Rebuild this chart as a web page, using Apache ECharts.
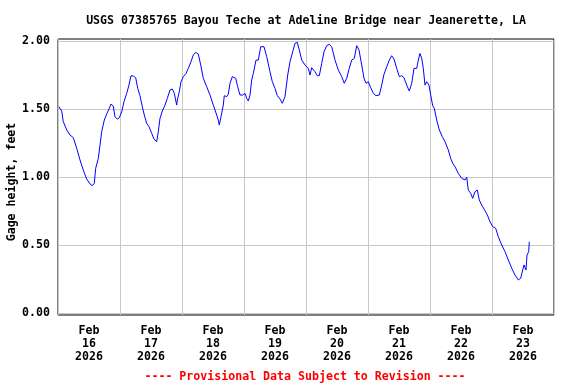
<!DOCTYPE html>
<html>
<head>
<meta charset="utf-8">
<script src="https://cdn.jsdelivr.net/npm/echarts@6/dist/echarts.min.js"></script>
<style>html,body{margin:0;padding:0;background:#fff}#c{width:576px;height:384px}</style>
</head>
<body>
<div id="c"></div>
<script>
// hours since Feb 16 2026 00:00
const hours = [0.39,1.43,2.05,3.37,4.65,5.92,7.24,8.52,9.79,11.11,12.39,13.28,14.05,14.59,15.60,16.26,16.92,17.92,18.85,19.74,20.52,21.41,22.06,22.95,23.73,24.66,25.55,26.59,27.48,28.26,29.15,30.08,30.85,31.74,32.63,33.41,34.34,35.23,36.27,37.16,38.21,38.83,39.48,40.37,41.42,42.31,43.35,44.25,45.02,45.95,46.18,46.95,47.61,48.50,49.55,50.44,51.48,52.37,53.30,54.31,55.24,56.25,57.56,58.84,60.12,61.43,62.05,62.44,63.10,63.99,64.37,65.30,65.92,66.58,67.47,68.13,68.79,69.56,70.45,71.50,72.39,73.05,73.67,74.32,74.98,75.60,76.65,77.54,78.47,79.74,80.79,82.06,82.95,84.00,84.89,85.94,86.83,87.87,88.92,89.81,90.85,91.74,92.63,93.41,94.34,95.61,96.89,97.55,98.21,99.48,100.37,101.15,102.08,102.97,104.01,105.02,105.95,107.23,108.50,109.82,110.83,111.76,112.76,113.69,114.70,115.63,116.52,117.56,118.45,119.23,120.12,121.05,122.06,123.10,124.38,125.31,126.19,127.24,128.25,129.17,130.06,131.11,132.12,133.04,133.94,134.98,135.99,136.92,137.81,138.85,139.47,140.13,140.79,141.41,142.07,142.72,143.61,144.27,145.05,145.67,146.59,147.60,148.76,149.81,151.08,152.01,152.79,153.68,154.96,156.27,157.55,158.21,158.83,159.76,160.53,161.42,162.31,163.08,164.01,165.29,166.18,167.23,168.27,169.43,170.44,171.76,173.03,174.31,175.63,176.90,178.18,179.11,179.88,180.39,181.16,181.55,182.21,182.44];
const gage = [1.517,1.485,1.407,1.346,1.309,1.289,1.211,1.125,1.051,0.985,0.949,0.936,0.954,1.064,1.137,1.235,1.333,1.419,1.463,1.500,1.537,1.522,1.443,1.426,1.436,1.480,1.554,1.615,1.676,1.745,1.743,1.730,1.652,1.598,1.517,1.456,1.395,1.370,1.321,1.279,1.260,1.333,1.431,1.485,1.529,1.578,1.640,1.647,1.615,1.529,1.566,1.627,1.701,1.738,1.762,1.799,1.848,1.897,1.917,1.904,1.824,1.726,1.664,1.603,1.529,1.456,1.419,1.382,1.443,1.529,1.598,1.591,1.608,1.689,1.738,1.750,1.726,1.664,1.603,1.603,1.615,1.578,1.559,1.603,1.713,1.762,1.860,1.860,1.958,1.958,1.885,1.775,1.701,1.652,1.598,1.574,1.542,1.591,1.750,1.848,1.921,1.983,1.990,1.934,1.860,1.824,1.799,1.750,1.804,1.775,1.745,1.745,1.836,1.921,1.966,1.976,1.958,1.860,1.787,1.738,1.689,1.726,1.799,1.860,1.873,1.966,1.934,1.824,1.726,1.689,1.701,1.657,1.615,1.598,1.603,1.676,1.755,1.811,1.860,1.892,1.868,1.799,1.738,1.745,1.730,1.676,1.632,1.689,1.799,1.799,1.860,1.909,1.873,1.799,1.676,1.701,1.676,1.603,1.524,1.505,1.419,1.346,1.297,1.260,1.199,1.137,1.101,1.076,1.027,0.990,0.978,0.998,0.904,0.880,0.843,0.892,0.904,0.831,0.794,0.752,0.721,0.671,0.635,0.623,0.561,0.500,0.451,0.390,0.329,0.279,0.243,0.255,0.316,0.353,0.316,0.426,0.451,0.524];
const yTicks = [0, 0.5, 1.0, 1.5, 2.0];
const labelHours = [12, 36, 60, 84, 108, 132, 156, 180];
const dayLabels = ['Feb\n16\n2026','Feb\n17\n2026','Feb\n18\n2026','Feb\n19\n2026','Feb\n20\n2026','Feb\n21\n2026','Feb\n22\n2026','Feb\n23\n2026'];

const FONT = '"DejaVu Sans Mono", monospace';
const chart = echarts.init(document.getElementById('c'), null, {renderer: 'canvas'});
chart.setOption({
  animation: false,
  backgroundColor: '#fff',
  title: [{
    text: 'USGS 07385765 Bayou Teche at Adeline Bridge near Jeanerette, LA',
    left: 301, top: 10, textAlign: 'center',
    textStyle: {fontFamily: FONT, fontWeight: 'bold', fontSize: 11.6, color: '#000'}
  }, {
    text: '---- Provisional Data Subject to Revision ----',
    left: 300, top: 366, textAlign: 'center',
    textStyle: {fontFamily: FONT, fontWeight: 'bold', fontSize: 11.6, color: '#ff0000'}
  }],
  grid: {left: 58, top: 39, width: 496, height: 276, show: true, borderColor: '#000', borderWidth: 1,
         backgroundColor: 'transparent', containLabel: false, outerBoundsMode: 'none'},
  xAxis: {
    type: 'value', min: 0, max: 192, interval: 24,
    axisLine: {show: false}, axisTick: {show: false},
    splitLine: {show: true, lineStyle: {color: '#c8c8c8', width: 1}},
    axisLabel: {
      customValues: labelHours,
      formatter: function (v) { return dayLabels[labelHours.indexOf(v)] || ''; },
      fontFamily: FONT, fontWeight: 'bold', fontSize: 11.6, color: '#000',
      lineHeight: 13, margin: 9, align: 'center'
    }
  },
  yAxis: {
    type: 'value', min: -0.015, max: 2.015,
    name: 'Gage height, feet', nameLocation: 'middle', nameRotate: 90, nameGap: 40,
    nameMoveOverlap: false,
    nameTextStyle: {fontFamily: FONT, fontWeight: 'bold', fontSize: 11.6, color: '#000', padding: [0, 10, 0, 0]},
    axisLine: {show: false},
    axisTick: {show: false, customValues: yTicks},
    splitLine: {show: true, lineStyle: {color: '#c8c8c8', width: 1}},
    axisLabel: {
      customValues: yTicks,
      formatter: function (v) { return v.toFixed(2); },
      fontFamily: FONT, fontWeight: 'bold', fontSize: 11.6, color: '#000', margin: 8
    }
  },
  series: [{
    type: 'line', showSymbol: false, symbol: 'none',
    data: hours.map((h, i) => [h, gage[i]]),
    lineStyle: {color: '#0000ff', width: 1},
    itemStyle: {color: '#0000ff'}
  }]
});
</script>
</body>
</html>
